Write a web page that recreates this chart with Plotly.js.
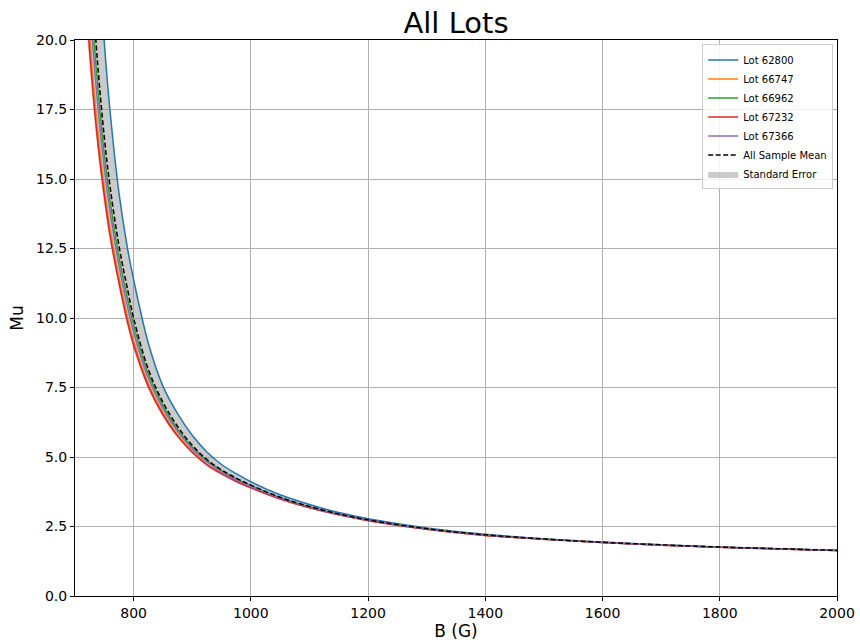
<!DOCTYPE html>
<html>
<head>
<meta charset="utf-8">
<script src="https://cdn.plot.ly/plotly-3.0.1.min.js"></script>
<style>html,body{margin:0;padding:0;background:#fff;}#chart{width:860px;height:644px;}</style>
</head>
<body>
<div id="chart"></div>
<script>
// B field values (G)
const B = [710,720,730,740,750,760,775,790,800,825,850,875,900,925,950,975,1000,1050,1100,1150,1200,1300,1400,1500,1600,1700,1800,1900,2000];

const lot62800 = [46.0,34.6,27.7,23.1,19.9,17.4,14.5,12.45,11.38,9.10,7.55,6.56,5.78,5.18,4.73,4.40,4.11,3.64,3.29,3.0,2.78,2.45,2.22,2.06,1.94,1.845,1.765,1.70,1.645];
const lot66747 = [25.6,21.7,18.8,16.5,14.7,13.2,11.47,10.0,9.17,7.64,6.6,5.8,5.2,4.74,4.41,4.14,3.91,3.51,3.18,2.93,2.72,2.40,2.18,2.04,1.92,1.83,1.755,1.69,1.635];
const lot66962 = [29.4,24.3,20.7,18.05,15.9,14.2,12.2,10.67,9.74,8.0,6.85,6.0,5.35,4.87,4.50,4.21,3.97,3.54,3.21,2.945,2.735,2.415,2.195,2.048,1.928,1.838,1.758,1.698,1.64];
const lot67232 = [24.8,21.1,18.3,16.1,14.4,12.95,11.27,9.82,9.03,7.54,6.52,5.75,5.17,4.72,4.39,4.12,3.89,3.49,3.17,2.92,2.71,2.40,2.18,2.04,1.92,1.83,1.755,1.69,1.635];
const lot67366 = [27.7,23.1,19.9,17.4,15.4,13.8,11.9,10.37,9.49,7.84,6.74,5.92,5.29,4.82,4.46,4.18,3.94,3.52,3.20,2.94,2.73,2.41,2.19,2.045,1.925,1.835,1.757,1.695,1.638];
const meanMu   = [31.4,25.6,21.7,18.8,16.5,14.7,12.6,11.0,10.0,8.16,6.97,6.10,5.42,4.91,4.535,4.24,3.99,3.55,3.22,2.95,2.74,2.42,2.2,2.05,1.93,1.84,1.76,1.70,1.64];
const seUpper  = [45.0,34.5,27.6,23.0,19.85,17.35,14.45,12.4,11.34,9.07,7.52,6.54,5.76,5.16,4.71,4.38,4.10,3.63,3.28,2.995,2.775,2.448,2.218,2.058,1.938,1.843,1.763,1.70,1.645];
const seLower  = [23.9,20.4,17.8,15.75,14.06,12.7,11.09,9.65,8.88,7.45,6.45,5.70,5.12,4.69,4.36,4.10,3.86,3.46,3.15,2.90,2.70,2.39,2.18,2.035,1.918,1.828,1.752,1.69,1.633];

const lotNames = ['Lot 62800','Lot 66747','Lot 66962','Lot 67232','Lot 67366'];
const lotData = [lot62800, lot66747, lot66962, lot67232, lot67366];
const lotColors = ['#1f77b4','#ff7f0e','#2ca02c','#d62728','#9467bd'];

const traces = [];
traces.push({x:B, y:seLower, mode:'lines', line:{width:0, shape:'spline'}, showlegend:false, hoverinfo:'skip'});
traces.push({x:B, y:seUpper, mode:'lines', line:{width:0, shape:'spline'}, fill:'tonexty',
  fillcolor:'rgba(140,140,140,0.45)', name:'Standard Error', legendrank:1000});
lotNames.forEach((n,i)=>{
  traces.push({x:B, y:lotData[i], mode:'lines', name:n, line:{color:lotColors[i], width:1.5, shape:'spline'}, legendrank:i+1});
});
traces.push({x:B, y:meanMu, mode:'lines', name:'All Sample Mean', line:{color:'#000', width:1.5, dash:'5px,2.5px', shape:'spline'}, legendrank:900});

const font = {family:'DejaVu Sans, sans-serif', color:'#000'};
const layout = {
  width:860, height:644,
  margin:{l:75, r:23, t:40, b:48},
  paper_bgcolor:'#fff', plot_bgcolor:'#fff',
  font:font,
  title:{text:'All Lots', font:{family:'DejaVu Sans, sans-serif', size:29, color:'#000'}, x:0.5, xref:'paper', y:0.965, yanchor:'middle'},
  xaxis:{range:[700,2000], dtick:200, tick0:0, showgrid:true, gridcolor:'#b0b0b0', gridwidth:1,
    showline:true, linecolor:'#000', linewidth:1, mirror:true, ticks:'outside', ticklen:4, tickcolor:'#000',
    tickfont:{size:14}, zeroline:false,
    title:{text:'B (G)', font:{size:17}, standoff:2}},
  yaxis:{range:[0,20], dtick:2.5, tick0:0, tickformat:'.1f', showgrid:true, gridcolor:'#b0b0b0', gridwidth:1,
    showline:true, linecolor:'#000', linewidth:1, mirror:true, ticks:'outside', ticklen:4, tickcolor:'#000',
    tickfont:{size:14}, zeroline:false,
    title:{text:'Mu', font:{size:17}, standoff:8}},
  legend:{x:0.995, y:0.992, xanchor:'right', yanchor:'top', bgcolor:'rgba(255,255,255,0.85)',
    bordercolor:'#cccccc', borderwidth:1, font:{size:10}, tracegroupgap:0, itemwidth:30, traceorder:'normal'}
};
Plotly.newPlot('chart', traces, layout, {displayModeBar:false, staticPlot:true});
</script>
</body>
</html>
